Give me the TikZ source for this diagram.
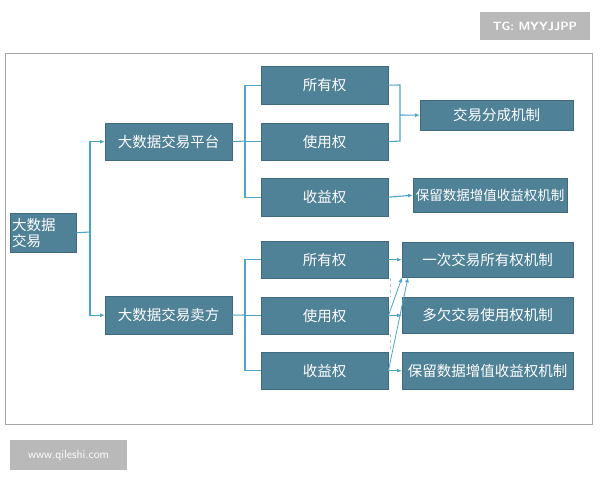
\documentclass[tikz,border=0pt]{standalone}
\usepackage{fontspec}
\newfontfamily\cjk{Noto Sans CJK SC}
\usetikzlibrary{arrows.meta}
\definecolor{boxc}{HTML}{4F8197}
\definecolor{boxd}{HTML}{3E6B80}
\definecolor{linec}{HTML}{4BA6C6}
\begin{document}
\begin{tikzpicture}[x=1pt,y=-1pt,
  bx/.style={draw=boxd,fill=boxc,text=white,font=\cjk\fontsize{14.5}{16}\selectfont,inner sep=0pt,anchor=north west},
  ln/.style={draw=linec,line width=1.1pt},
  ar/.style={ln,-{Latex[length=5pt,width=4pt]}}]
\useasboundingbox (0,0) rectangle (600,480);
\draw[gray!70,line width=0.8pt] (5,53) rectangle (592,424);
\node[fill=gray!55,text=white,font=\sffamily\bfseries\fontsize{12}{14}\selectfont,minimum width=110pt,minimum height=28pt,inner sep=0pt] (tg) at (535,26) {TG: MYYJJPP};
\node[fill=gray!55,text=white,font=\sffamily\fontsize{12}{14}\selectfont,minimum width=117pt,minimum height=30pt,inner sep=0pt] (www) at (68.5,455) {www.qileshi.com};
\newcommand{\bb}[6]{\node[bx,minimum width=#4-#2,minimum height=#5-#3] (#1) at (#2,#3) {#6};}
\node[bx,minimum width=66pt,minimum height=39pt,align=left,text width=62pt,inner sep=2pt,font=\cjk\fontsize{14.5}{16}\selectfont] (root) at (10,213) {大数据\\交易};
\bb{plat}{105}{123}{232}{160}{大数据交易平台}
\bb{sell}{105}{296}{232}{334}{大数据交易卖方}
\bb{a1}{261}{66}{388}{104}{所有权}
\bb{a2}{261}{123}{388}{160}{使用权}
\bb{a3}{261}{178}{388}{216}{收益权}
\bb{b1}{261}{241}{388}{278}{所有权}
\bb{b2}{261}{297}{388}{334}{使用权}
\bb{b3}{261}{352}{388}{389}{收益权}
\bb{c1}{420}{100}{573}{130}{交易分成机制}
\node[bx,minimum width=154pt,minimum height=34pt,font=\cjk\fontsize{13.5}{15}\selectfont] (c2) at (413,178) {保留数据增值收益权机制};
\bb{d1}{402}{242}{573}{277}{一次交易所有权机制}
\bb{d2}{402}{297}{573}{333}{多欠交易使用权机制}
\bb{d3}{402}{352}{573}{389}{保留数据增值收益权机制}
\coordinate (j0) at (90,232);
\draw[ln] (root.east) -- (j0);
\draw[ar] (j0) |- (plat.west);
\draw[ar] (j0) |- (sell.west);
\coordinate (j1) at (245,141);
\draw[ln] (plat.east) -- (j1);
\draw[ln] (j1) |- (a1.west);
\draw[ln] (j1) |- (a2.west);
\draw[ln] (j1) |- (a3.west);
\coordinate (j2) at (245,315);
\draw[ln] (sell.east) -- (j2);
\draw[ln] (j2) |- (b1.west);
\draw[ln] (j2) |- (b2.west);
\draw[ln] (j2) |- (b3.west);
\coordinate (k1) at (400,85);
\coordinate (k2) at (400,141);
\coordinate (k3) at (400,115);
\draw[ln] (a1.east) -- (k1) -- (k2) -- (a2.east);
\draw[ar] (k3) -- (c1.west);
\draw[ar] (a3.east) -- (c2.west);
\draw[ar] (b1.east) -- (d1.west);
\draw[ar] (b2.east) -- (d2.west);
\draw[ar] (b3.east) -- (d3.west);
\draw[ar,line width=0.8pt] (b2.east) -- (d1.south west);
\draw[ar,line width=0.8pt] (b3.east) -- ([xshift=6pt]d1.south west);
\draw[linec!60,dashed,line width=0.6pt] (390,278) -- (390,297);
\draw[linec!60,dashed,line width=0.6pt] (390,334) -- (390,352);
\end{tikzpicture}
\end{document}
